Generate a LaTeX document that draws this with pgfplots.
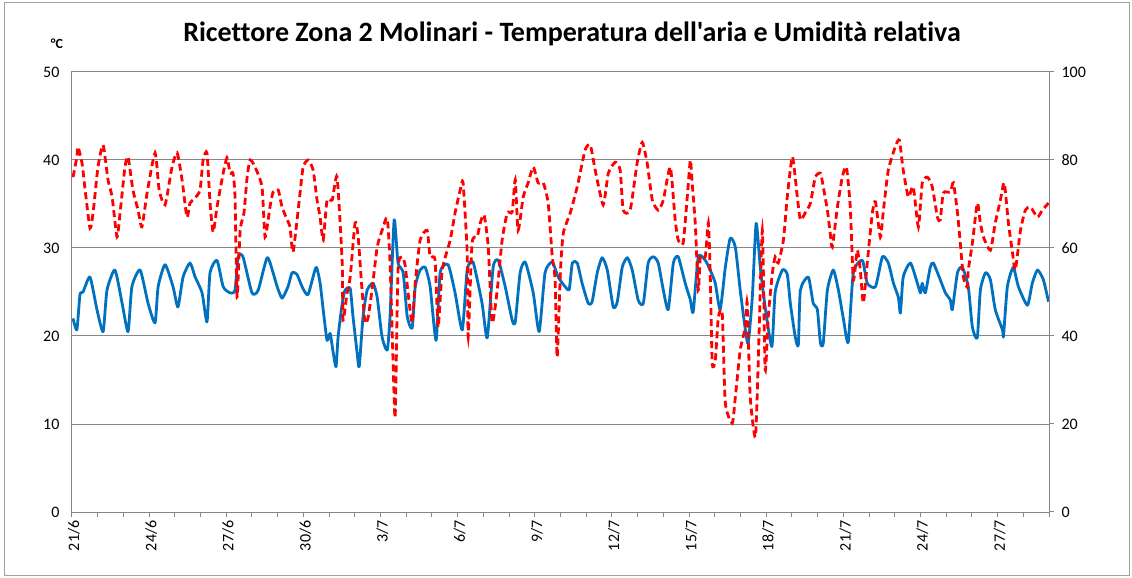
\documentclass[border=0pt]{standalone}
\usepackage{pgfplots}
\pgfplotsset{compat=1.18}
\usepackage{pgfplotstable}
\usepackage{fontspec}
\setmainfont{Carlito}
\newfontfamily\titlefont{Carlito}[Ligatures={NoCommon}]
\definecolor{tblue}{RGB}{0,112,192}
\definecolor{gridgray}{RGB}{134,134,134}
\definecolor{framegray}{RGB}{160,160,160}

\pgfplotstableread{
d T
0.04 22.0
0.19 20.7
0.31 24.7
0.43 25.0
0.70 26.7
0.97 23.0
1.21 20.5
1.36 25.2
1.67 27.5
1.95 23.7
2.18 20.5
2.33 25.6
2.65 27.5
2.96 23.7
3.23 21.5
3.35 25.6
3.62 28.1
3.93 25.6
4.12 23.3
4.32 26.7
4.59 28.3
4.79 26.7
5.06 24.9
5.25 21.6
5.37 27.2
5.64 28.6
5.88 25.6
6.15 24.9
6.34 25.2
6.46 29.0
6.65 29.0
7.00 24.9
7.24 25.2
7.59 28.9
7.82 27.2
7.98 25.6
8.17 24.3
8.40 25.6
8.56 27.2
8.75 27.0
8.95 25.6
9.18 24.7
9.49 27.8
9.65 26.0
9.77 23.0
9.92 19.5
10.04 20.3
10.16 18.1
10.27 16.5
10.35 19.9
10.51 23.7
10.62 25.2
10.82 25.4
10.93 22.2
11.09 18.1
11.17 16.5
11.32 22.2
11.48 25.2
11.71 26.0
11.87 24.4
12.06 19.9
12.26 18.4
12.37 22.2
12.53 33.2
12.68 28.3
12.88 27.2
13.04 22.2
13.23 20.9
13.35 25.6
13.54 27.5
13.74 27.8
13.93 25.6
14.16 19.5
14.32 27.2
14.63 28.1
14.90 24.9
15.18 20.7
15.37 27.5
15.60 28.4
15.95 23.7
16.15 19.8
16.38 27.8
16.58 28.6
16.85 25.6
17.12 21.8
17.24 21.6
17.43 27.2
17.63 28.4
17.94 24.9
18.17 20.5
18.40 27.2
18.68 28.4
18.91 26.7
19.18 25.6
19.34 25.3
19.46 28.3
19.65 28.3
19.84 26.0
20.08 23.7
20.23 23.9
20.43 27.2
20.62 28.9
20.82 27.5
21.05 23.3
21.21 23.9
21.40 27.8
21.60 28.9
21.79 27.5
22.02 24.1
22.22 23.7
22.41 28.3
22.61 29.0
22.80 28.3
23.00 25.2
23.19 23.0
23.39 28.3
23.58 29.0
23.85 26.0
24.05 24.1
24.16 22.7
24.36 29.0
24.63 28.6
24.82 27.5
25.02 26.0
25.21 23.0
25.41 27.8
25.60 31.1
25.80 30.1
25.99 25.2
26.19 20.7
26.30 19.2
26.46 24.4
26.61 32.8
26.77 27.8
26.96 23.3
27.22 18.8
27.35 25.0
27.63 27.5
27.82 27.0
27.94 23.7
28.13 19.9
28.25 19.0
28.33 25.2
28.64 26.7
28.83 23.7
28.99 23.0
29.11 19.2
29.22 19.2
29.38 25.2
29.61 27.5
29.81 25.2
30.00 22.0
30.19 19.3
30.39 27.2
30.74 28.6
30.93 26.0
31.25 25.6
31.52 29.0
31.75 28.3
31.95 26.0
32.14 24.4
32.22 22.6
32.33 26.7
32.61 28.3
32.88 26.0
33.00 24.9
33.07 26.0
33.19 24.9
33.38 27.8
33.50 28.3
33.77 26.4
33.97 24.9
34.16 24.1
34.24 23.0
34.44 27.2
34.63 27.8
34.86 25.6
35.02 21.0
35.21 19.8
35.33 25.2
35.53 27.2
35.72 26.4
35.91 23.0
36.19 20.7
36.23 20.0
36.38 25.6
36.61 27.8
36.81 25.6
37.16 23.5
37.35 26.0
37.55 27.5
37.78 26.4
37.98 23.9
}\temptable

\pgfplotstableread{
d H
0.04 76.1
0.19 80.7
0.23 83.0
0.39 79.3
0.51 73.2
0.70 64.5
0.82 68.0
1.01 78.4
1.21 83.4
1.40 75.5
1.56 71.6
1.75 62.5
1.87 68.0
2.06 78.4
2.18 80.7
2.37 73.2
2.57 68.6
2.72 64.8
2.92 72.5
3.23 81.6
3.39 73.2
3.62 69.8
3.89 78.4
4.09 81.6
4.28 75.5
4.47 67.0
4.59 70.2
4.79 71.4
4.98 73.2
5.10 80.0
5.25 81.6
5.37 70.2
5.49 63.6
5.64 69.3
5.88 77.0
6.03 80.5
6.15 77.0
6.26 77.0
6.34 71.6
6.42 48.9
6.54 64.0
6.69 68.0
6.81 76.1
6.93 80.0
7.12 78.4
7.39 73.9
7.51 62.5
7.70 69.3
7.82 72.7
8.02 73.2
8.17 69.3
8.37 66.4
8.48 64.8
8.60 59.1
8.87 72.5
8.99 78.4
9.18 80.0
9.38 77.7
9.53 70.9
9.65 67.0
9.77 61.8
9.92 70.9
10.12 70.9
10.31 76.1
10.51 56.6
10.54 43.6
10.70 49.8
10.82 53.4
11.01 65.7
11.13 62.5
11.28 50.5
11.40 43.0
11.52 44.3
11.67 50.5
11.87 60.2
12.06 64.0
12.26 66.8
12.37 56.6
12.49 33.9
12.57 21.6
12.68 55.0
12.84 58.0
12.96 56.0
13.07 49.8
13.23 43.0
13.35 52.0
13.54 61.8
13.81 64.0
13.93 58.0
14.12 57.3
14.24 42.0
14.40 55.0
14.71 61.8
14.90 68.0
15.10 73.2
15.21 74.8
15.37 58.9
15.41 39.8
15.56 61.1
15.76 62.5
15.88 65.7
16.03 67.5
16.19 60.2
16.34 43.0
16.54 50.5
16.73 61.8
16.93 68.0
17.12 68.2
17.24 75.5
17.35 64.0
17.55 71.6
17.74 74.8
17.94 78.4
18.13 74.8
18.33 74.8
18.52 70.2
18.68 58.0
18.79 52.7
18.87 35.2
19.00 55.0
19.11 63.4
19.38 68.0
19.65 73.9
19.96 82.3
20.16 83.4
20.35 77.7
20.66 69.8
20.86 77.0
21.13 79.5
21.32 77.7
21.44 68.6
21.71 68.6
21.98 79.3
22.18 84.0
22.37 79.3
22.57 70.9
22.80 68.6
23.00 70.9
23.27 78.4
23.46 66.4
23.58 61.8
23.77 61.1
23.93 71.6
24.05 80.0
24.12 74.8
24.24 65.7
24.36 50.5
24.44 58.0
24.63 58.0
24.75 65.7
24.82 55.0
24.90 33.9
25.02 34.5
25.14 44.3
25.29 45.2
25.41 24.8
25.68 20.2
25.80 26.1
25.99 36.8
26.19 42.0
26.26 47.5
26.38 26.1
26.58 17.0
26.69 33.9
26.85 64.0
26.96 32.3
27.08 44.3
27.24 54.3
27.35 58.0
27.47 56.6
27.67 61.8
27.82 71.6
28.02 80.7
28.21 71.6
28.33 66.4
28.52 68.0
28.72 70.2
28.91 76.1
29.11 77.0
29.22 73.9
29.38 68.6
29.49 63.4
29.57 60.2
29.77 69.3
29.96 76.1
30.12 78.4
30.27 69.3
30.39 52.7
30.54 59.5
30.66 55.0
30.78 47.5
30.93 56.6
31.13 68.0
31.25 70.5
31.44 62.5
31.56 68.6
31.75 77.7
32.02 83.0
32.18 84.5
32.33 77.7
32.53 71.6
32.72 73.9
32.92 64.8
33.07 74.8
33.27 76.1
33.46 73.9
33.66 67.0
33.77 66.4
33.89 72.5
34.16 72.7
34.28 74.8
34.44 68.0
34.55 61.1
34.67 53.4
34.82 51.1
34.86 55.0
35.02 61.1
35.21 70.2
35.33 65.7
35.45 62.5
35.72 59.5
35.91 65.7
36.11 70.9
36.26 74.8
36.42 65.7
36.58 58.9
36.69 55.0
36.89 64.0
37.08 68.6
37.28 69.3
37.55 67.0
37.74 68.6
37.98 70.2
}\humtable

\begin{document}
\begin{tikzpicture}
\begin{axis}[
  scale only axis, width=977pt, height=440pt,
  xmin=0, xmax=38, ymin=0, ymax=50,
  axis line style={gridgray, line width=1pt},
  ytick={0,10,...,50},
  ymajorgrids, grid style={gridgray, line width=1pt},
  ytick style={draw=none},
  xtick={0,3,...,36},
  xticklabels={21/6,24/6,27/6,30/6,3/7,6/7,9/7,12/7,15/7,18/7,21/7,24/7,27/7},
  minor xtick={0,1,...,38},
  xtick pos=bottom,
  tick align=outside,
  major tick length=5pt, minor tick length=5pt,
  xtick style={gridgray, line width=1pt},
  minor tick style={gridgray, line width=1pt},
  /pgf/number format/assume math mode=true,
  ticklabel style={font=\fontsize{16}{18}\selectfont, text=black},
  xticklabel style={rotate=90, anchor=east, yshift=-2pt},
  yticklabel style={xshift=-4pt},
]
\addplot[tblue, line width=2.8pt, smooth, tension=0.35, line join=round] table[x=d,y=T] {\temptable};
\end{axis}
\begin{axis}[
  scale only axis, width=977pt, height=440pt,
  xmin=0, xmax=38, ymin=0, ymax=100,
  axis x line=none,
  axis y line*=right,
  axis line style={gridgray, line width=1pt},
  ytick={0,20,...,100},
  tick align=outside,
  major tick length=5pt,
  ytick style={gridgray, line width=1pt},
  /pgf/number format/assume math mode=true,
  ticklabel style={font=\fontsize{16}{18}\selectfont, text=black},
  yticklabel style={xshift=4pt},
]
\addplot[red, line width=2.8pt, dash pattern=on 7pt off 4pt, smooth, tension=0.35] table[x=d,y=H] {\humtable};
\end{axis}
\draw[framegray, line width=1pt] (-67pt,-63pt) rectangle (1057pt,509pt);
\node[font=\titlefont\bfseries\fontsize{28}{32}\selectfont, anchor=base] at (500pt,470pt) {Ricettore Zona 2 Molinari - Temperatura dell'aria e Umidità relativa};
\node[font=\bfseries\fontsize{14}{16}\selectfont] at (-15pt,468pt) {°C};
\useasboundingbox (-72pt,-66pt) rectangle (1060pt,512pt);
\end{tikzpicture}
\end{document}
